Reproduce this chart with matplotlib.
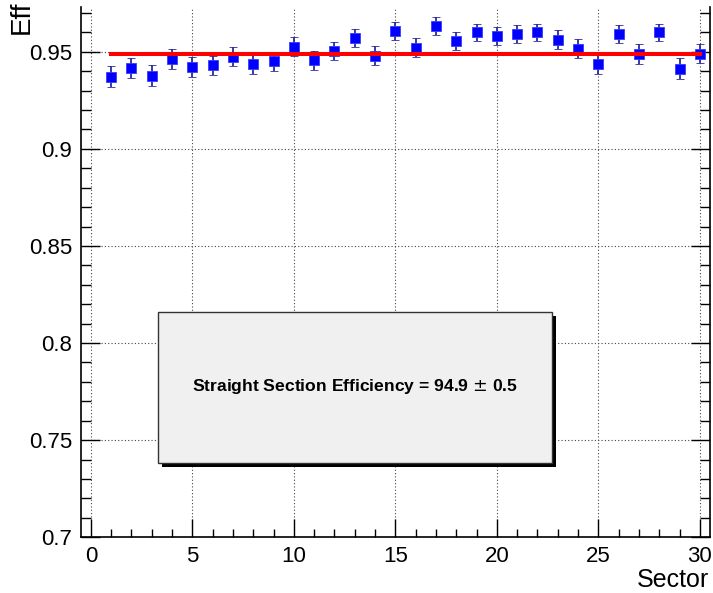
import numpy as np
import matplotlib.pyplot as plt
from matplotlib.patches import Rectangle
from matplotlib.ticker import MultipleLocator

# per-sector straight-section efficiency with statistical errors
sectors = list(range(1, 31))
eff = [0.9372, 0.9418, 0.9377, 0.9463, 0.9423, 0.9430, 0.9474, 0.9437, 0.9451, 0.9526,
       0.9456, 0.9504, 0.9569, 0.9479, 0.9606, 0.9521, 0.9633, 0.9555, 0.9600, 0.9582,
       0.9592, 0.9600, 0.9562, 0.9515, 0.9439, 0.9592, 0.9488, 0.9600, 0.9413, 0.9490]
eff_err = [0.0054, 0.0052, 0.0052, 0.0050, 0.0052, 0.0050, 0.0048, 0.0050, 0.0048, 0.0048,
           0.0050, 0.0048, 0.0046, 0.0050, 0.0046, 0.0048, 0.0046, 0.0048, 0.0045, 0.0046,
           0.0045, 0.0045, 0.0048, 0.0048, 0.0056, 0.0046, 0.0050, 0.0045, 0.0054, 0.0050]

# constant fit result (percent)
fit_mean = 94.9
fit_err = 0.5
fit_range = [1, 30]

fig = plt.figure(figsize=(7.13, 5.93), dpi=100)
plt.rcParams['font.family'] = ['Liberation Sans', 'DejaVu Sans']
W, H = 713.0, 593.0
ax = fig.add_axes([80.7 / W, 1 - 537.3 / H, (710 - 80.7) / W, (537.3 - 7) / H])

ax.set_xlim(-0.5, 30.5)
ax.set_ylim(0.7, 0.973)

ax.grid(True, which='major', linestyle=(0, (1, 2)), color='#444444', linewidth=0.8)
ax.set_axisbelow(True)

ax.errorbar(sectors, eff, yerr=eff_err, fmt='s', color='#0000ff', markersize=7.8,
            markeredgecolor='#3a3aff', markeredgewidth=0.6,
            ecolor='#2a2a9a', elinewidth=1.3, capsize=2.6, capthick=1.3, zorder=3)

ax.plot(fit_range, [fit_mean / 100] * 2, color='#ff0000', linewidth=2.9, zorder=4)

ax.set_yticks([0.7, 0.75, 0.8, 0.85, 0.9, 0.95])
ax.set_yticklabels(['0.7', '0.75', '0.8', '0.85', '0.9', '0.95'])
ax.yaxis.set_minor_locator(MultipleLocator(0.01))
ax.set_xticks([0, 5, 10, 15, 20, 25, 30])
ax.xaxis.set_minor_locator(MultipleLocator(1))

ax.tick_params(axis='y', which='both', direction='in', left=True, right=True, labelsize=16, pad=6)
ax.tick_params(axis='y', which='major', length=14, width=1)
ax.tick_params(axis='y', which='minor', length=7, width=1)
ax.tick_params(axis='x', which='both', direction='in', top=False, labelsize=16, pad=6)
ax.tick_params(axis='x', which='major', length=13, width=1)
ax.tick_params(axis='x', which='minor', length=6, width=1)

ax.spines['top'].set_visible(False)
for s in ['left', 'right', 'bottom']:
    ax.spines[s].set_linewidth(1.2)

fig.text(22 / W, 1 - 0.5 / H, 'Eff', rotation=90, ha='center', va='top', fontsize=20)
fig.text(709 / W, 6 / H, 'Sector', ha='right', va='baseline', fontsize=18)

# fit result box with drop shadow
bx0, by0, bx1, by1 = 158.3, 312.3, 552.3, 463.3
shadow = Rectangle(((bx0 + 3.5) / W, 1 - (by1 + 3.5) / H), (bx1 - bx0) / W, (by1 - by0) / H,
                   transform=fig.transFigure, facecolor='black', edgecolor='none', zorder=5)
box = Rectangle((bx0 / W, 1 - by1 / H), (bx1 - bx0) / W, (by1 - by0) / H,
                transform=fig.transFigure, facecolor='#f0f0f0', edgecolor='#333333',
                linewidth=1.0, zorder=6)
fig.add_artist(shadow)
fig.add_artist(box)
fig.text((bx0 + bx1) / 2 / W, 1 - 386 / H,
         'Straight Section Efficiency = %.1f $\\pm$ %.1f' % (fit_mean, fit_err),
         ha='center', va='center', fontsize=12.6, fontweight='bold', zorder=7)

fig.savefig('out.png', dpi=100)
